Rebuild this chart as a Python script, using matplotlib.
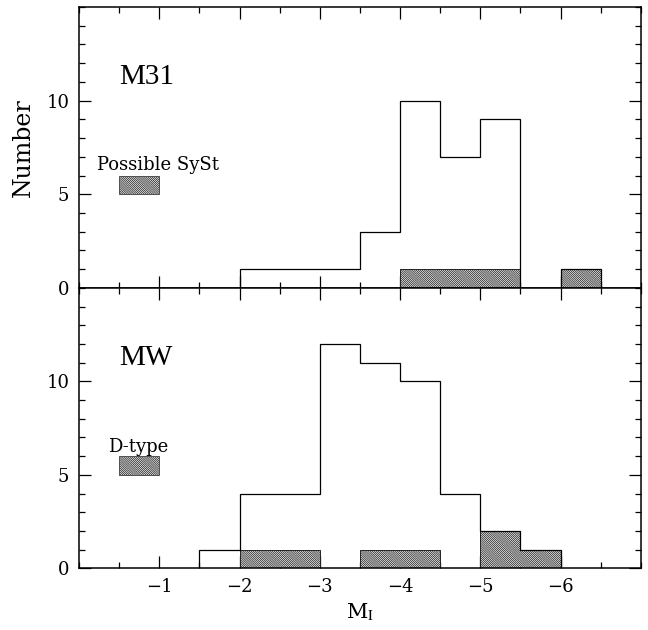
import numpy as np
import matplotlib
matplotlib.use("Agg")
import matplotlib.pyplot as plt
from matplotlib.ticker import MultipleLocator, FixedLocator

# 0.5 mag bins, listed by their left (fainter) edge
m31_edges = [-2.0, -2.5, -3.0, -3.5, -4.0, -4.5, -5.0, -5.5, -6.0]
m31_all = [1, 1, 1, 3, 10, 7, 9, 0, 1]
m31_hatch = [0, 0, 0, 0, 1, 1, 1, 0, 1]

mw_edges = [-1.5, -2.0, -2.5, -3.0, -3.5, -4.0, -4.5, -5.0, -5.5]
mw_all = [1, 4, 4, 12, 11, 10, 4, 2, 1]
mw_hatch = [0, 1, 1, 0, 1, 1, 0, 2, 1]

panel_names = ["M31", "MW"]
legend_names = ["Possible SySt", "D-type"]
xtick_vals = [-1, -2, -3, -4, -5, -6]

plt.rcParams['font.family'] = ['DejaVu Serif']
plt.rcParams['mathtext.fontset'] = 'stix'
plt.rcParams['hatch.linewidth'] = 0.55
plt.rcParams['hatch.color'] = '#222222'

fig = plt.figure(figsize=(6.48, 6.30), dpi=100)
ax1 = fig.add_axes([0.122, 0.543, 0.867, 0.446])
ax2 = fig.add_axes([0.122, 0.098, 0.867, 0.445], sharex=ax1)

binw = 0.5
hatch = '\\' * 16
hcol = '#222222'

def draw_panel(ax, edges, counts, hcounts, name, legname, lx, ly):
    left = np.array(edges)
    allx = np.append(left, left[-1] - binw)[::-1]
    ax.stairs(hcounts[::-1], allx, baseline=0, fill=True, facecolor='white',
              edgecolor=hcol, hatch=hatch, lw=0.7, zorder=2)
    ax.stairs(counts[::-1], allx, baseline=0, color='black', lw=0.9, zorder=3)
    # legend swatch
    ax.bar([-0.5], [1], bottom=[5], width=-binw, align='edge', color='white',
           edgecolor=hcol, hatch=hatch, lw=0.5)
    ax.text(-0.5, 10.9, name, fontsize=21, ha='left', va='baseline',
            family='Liberation Serif')
    ax.text(lx, ly, legname, fontsize=13, ha='left', va='baseline')
    ax.set_ylim(0, 15)
    ax.yaxis.set_major_locator(FixedLocator([0, 5, 10]))
    ax.yaxis.set_minor_locator(MultipleLocator(1))
    ax.xaxis.set_major_locator(FixedLocator(xtick_vals))
    ax.xaxis.set_minor_locator(MultipleLocator(0.5))
    ax.tick_params(which='both', direction='in', top=True, right=True,
                   labelsize=13, width=0.9)
    ax.tick_params(which='major', length=8.5, pad=7)
    ax.tick_params(which='minor', length=4.5)
    for s in ax.spines.values():
        s.set_linewidth(1.1)
        s.set_zorder(4)

draw_panel(ax1, m31_edges, m31_all, m31_hatch,
           panel_names[0], legend_names[0], -0.22, 6.3)
draw_panel(ax2, mw_edges, mw_all, mw_hatch,
           panel_names[1], legend_names[1], -0.36, 6.2)

ax1.set_xlim(0, -7)
ax1.tick_params(labelbottom=False)
ax1.set_ylabel("Number", fontsize=17, labelpad=8)
ax2.set_xlabel(r"M$_{\mathrm{I}}$", fontsize=15, labelpad=4)

fig.savefig("out.png", dpi=100)
